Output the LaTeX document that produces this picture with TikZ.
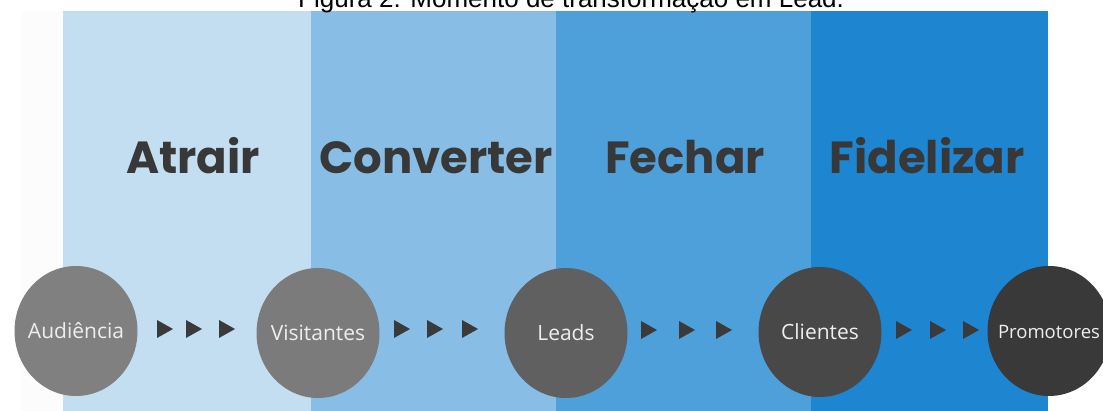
\documentclass[tikz,border=0pt]{standalone}
\usepackage{fontspec}
\setmainfont{Liberation Sans}
\newfontfamily\headfont{Poppins}
\newfontfamily\circfont{Open Sans}
\definecolor{bandA}{HTML}{C2DEF0}
\definecolor{bandB}{HTML}{88BEE6}
\definecolor{bandC}{HTML}{4EA0DB}
\definecolor{bandD}{HTML}{1E85D0}
\definecolor{headcol}{HTML}{383838}
\definecolor{arrcol}{HTML}{3A3A3A}
\definecolor{cA}{HTML}{808080}
\definecolor{cB}{HTML}{7B7B7B}
\definecolor{cC}{HTML}{606060}
\definecolor{cD}{HTML}{484848}
\definecolor{cE}{HTML}{393939}
\definecolor{ctext}{HTML}{EEEEEE}
\tikzset{
  band/.style={fill=#1, draw=none},
  heading/.style={font=\headfont\bfseries\fontsize{45}{54}\selectfont, text=headcol, anchor=base, inner sep=0pt},
  stage/.style={rectangle, draw=none, minimum width=123pt, minimum height=130pt, inner sep=0pt,
    path picture={\fill[#1] (path picture bounding box.center) ellipse [x radius=61.5pt, y radius=65pt];},
    font=\circfont\fontsize{21}{25}\selectfont, text=ctext, text height=15pt, text depth=0pt},
  tri/.style={fill=arrcol, draw=none}
}
\begin{document}
\begin{tikzpicture}[x=1pt,y=-1pt]
\useasboundingbox (0,0) rectangle (1103,411);
\clip (0,0) rectangle (1103,411);
\fill[white] (0,0) rectangle (1103,411);
\fill[black!1] (22,11) rectangle (63,411);
% bands
\fill[band=bandA] (63,11) rectangle (311,411);
\fill[band=bandB] (311,11) rectangle (556,411);
\fill[band=bandC] (556,11) rectangle (811,411);
\fill[band=bandD] (811,11) rectangle (1048,411);
% title (cut at the top, as in the reference)
\node[anchor=base west, inner sep=0pt, font=\fontsize{26}{30}\selectfont, text=black] (title) at (298,8) {Figura 2: Momento de transformação em Lead.};
% headings
\node[heading] (h1) at (193,174) {Atrair};
\node[heading] (h2) at (436,174) {Converter};
\node[heading] (h3) at (685,174) {Fechar};
\node[heading] (h4) at (927,174) {Fidelizar};
% stages
\node[stage=cA] (aud) at (76,331) {Audiência};
\node[stage=cB] (vis) at (318,333) {Visitantes};
\node[stage=cC] (lea) at (566,333) {Leads};
\node[stage=cD] (cli) at (820,332) {Clientes};
\node[stage=cE, font=\circfont\fontsize{18.5}{22}\selectfont] (pro) at (1049,331) {Promotores};
% arrow triangles
\foreach \x/\y in {157/329,186/329,219/329,394/329,427/329,462/329,641/330,679/330,716/330,896/330,930/330,963/330}{
  \fill[tri] (\x,\y-9) -- (\x+16,\y) -- (\x,\y+9) -- cycle;
}
\end{tikzpicture}
\end{document}
